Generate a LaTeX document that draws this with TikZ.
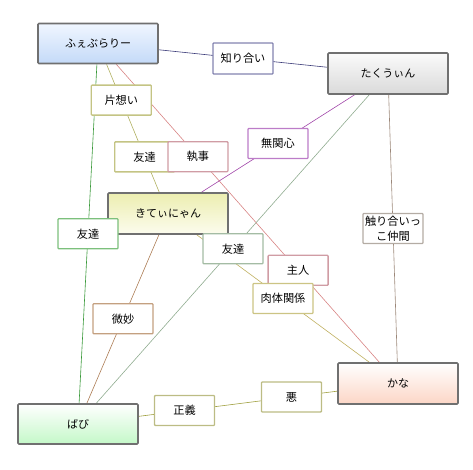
\documentclass[tikz,border=0pt]{standalone}
\usepackage{fontspec}
\setmainfont{Noto Sans CJK JP}
\usetikzlibrary{calc}
\pgfdeclarelayer{background}
\pgfsetlayers{background,main}
\definecolor{mainborder}{HTML}{707070}
\definecolor{cNavyL}{HTML}{3A3A78}
\definecolor{cNavyB}{HTML}{8484B0}
\definecolor{cOliveL}{HTML}{B0B060}
\definecolor{cOliveB}{HTML}{C4C484}
\definecolor{cRedL}{HTML}{D88484}
\definecolor{cRedB}{HTML}{D09CA4}
\definecolor{cPurpL}{HTML}{A044A8}
\definecolor{cPurpB}{HTML}{BC7CC8}
\definecolor{cGreenL}{HTML}{389838}
\definecolor{cGreenB}{HTML}{7CC07C}
\definecolor{cSageL}{HTML}{90AC90}
\definecolor{cSageB}{HTML}{A4BCA4}
\definecolor{cFleshL}{HTML}{C0B060}
\definecolor{cFleshB}{HTML}{CCC484}
\definecolor{cTaupeL}{HTML}{9C887A}
\definecolor{cTaupeB}{HTML}{B4ACA4}
\definecolor{cBrownL}{HTML}{AC7C54}
\definecolor{cBrownB}{HTML}{C4A080}
\definecolor{cJustL}{HTML}{A0A040}
\definecolor{cJustB}{HTML}{BCBC84}
\tikzset{
  mainbox/.style={draw=mainborder, line width=1.7pt, rounded corners=1pt,
    minimum width=120pt, minimum height=40pt, inner sep=0pt,
    font=\fontsize{11}{13}\selectfont, shading=axis, shading angle=0},
  lbl/.style={draw=#1, fill=white, line width=1.3pt, rounded corners=0.8pt,
    minimum width=60pt, minimum height=30pt, inner sep=0pt, align=center,
    font=\fontsize{11.2}{15}\selectfont},
  rel/.style={draw=#1, line width=0.6pt}
}
\begin{document}
\begin{tikzpicture}[x=1pt,y=-1pt]
\useasboundingbox (0,0) rectangle (473,469);
% main nodes
\node[mainbox, top color={rgb,255:red,240;green,246;blue,255}, bottom color={rgb,255:red,196;green,218;blue,248}] (feb) at (98,43.5) {ふぇぶらりー};
\node[mainbox, minimum height=41pt, top color={rgb,255:red,250;green,250;blue,250}, bottom color={rgb,255:red,218;green,218;blue,218}] (tak) at (388,73.5) {たくうぃん};
\node[mainbox, minimum height=41pt, top color={rgb,255:red,236;green,238;blue,176}, bottom color={rgb,255:red,252;green,252;blue,238}] (kit) at (168,213.5) {きてぃにゃん};
\node[mainbox, top color=white, bottom color={rgb,255:red,196;green,248;blue,200}] (bab) at (78,424) {ばび};
\node[mainbox, minimum height=41pt, top color=white, bottom color={rgb,255:red,252;green,214;blue,198}] (kan) at (398,383.5) {かな};
% connectors (behind)
\begin{pgfonlayer}{background}
\draw[rel=cNavyL] (feb) -- (tak);
\draw[rel=cOliveL] (feb) -- (kit);
\draw[rel=cRedL] (feb) -- (kan);
\draw[rel=cGreenL] (feb) -- (bab);
\draw[rel=cPurpL] (tak) -- (kit);
\draw[rel=cSageL] (tak) -- (bab);
\draw[rel=cTaupeL] (tak) -- (kan);
\draw[rel=cFleshL] (kit) -- (kan);
\draw[rel=cBrownL] (kit) -- (bab);
\draw[rel=cJustL] (bab) -- (kan);
\end{pgfonlayer}
% labels
\node[lbl=cNavyB, minimum height=31pt] (l1) at ($(feb.center)!0.5!(tak.center)$) {知り合い};
\node[lbl=cOliveB] (l2) at ($(feb.center)!0.333!(kit.center)$) {片想い};
\node[lbl=cOliveB] (l3) at ($(feb.center)!0.667!(kit.center)$) {友達};
\node[lbl=cRedB] (l4) at ($(feb.center)!0.333!(kan.center)$) {執事};
\node[lbl=cRedB] (l5) at ($(feb.center)!0.667!(kan.center)$) {主人};
\node[lbl=cGreenB] (l6) at ($(feb.center)!0.5!(bab.center)$) {友達};
\node[lbl=cPurpB] (l7) at ($(tak.center)!0.5!(kit.center)$) {無関心};
\node[lbl=cSageB] (l8) at ($(tak.center)!0.5!(bab.center)$) {友達};
\node[lbl=cTaupeB] (l9) at ($(tak.center)!0.5!(kan.center)$) {触り合いっ\\こ仲間};
\node[lbl=cFleshB] (l10) at ($(kit.center)!0.5!(kan.center)$) {肉体関係};
\node[lbl=cBrownB] (l11) at ($(kit.center)!0.5!(bab.center)$) {微妙};
\node[lbl=cJustB] (l12) at ($(bab.center)!0.333!(kan.center)$) {正義};
\node[lbl=cJustB] (l13) at ($(bab.center)!0.667!(kan.center)$) {悪};
\end{tikzpicture}
\end{document}
